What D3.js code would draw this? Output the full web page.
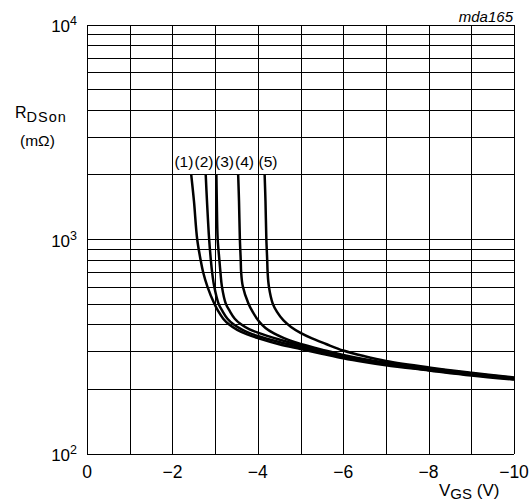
<!DOCTYPE html>
<html>
<head>
<meta charset="utf-8">
<script src="https://cdn.jsdelivr.net/npm/d3@7"></script>
<style>
  html, body { margin: 0; padding: 0; background: #fff; }
  svg { display: block; }
  text { font-family: "Liberation Sans", Arial, Helvetica, sans-serif; fill: #000; }
</style>
</head>
<body>
<svg id="chart" width="531" height="500"></svg>
<script>
// ---- data ----
const xTicks = [0, -2, -4, -6, -8, -10];
const xTickLabels = ["0", "\u22122", "\u22124", "\u22126", "\u22128", "\u221210"];
const xGrid = [0, -1, -2, -3, -4, -5, -6, -7, -8, -9, -10];
const yTickExponents = [2, 3, 4];
const curveLabels = ["(1)", "(2)", "(3)", "(4)", "(5)"];
const curveLabelV = [-2.27, -2.74, -3.22, -3.69, -4.24];

const vgs1 = [-2.44, -2.505, -2.58, -2.66, -2.72, -2.82, -2.98, -3.073, -3.19, -3.33, -3.518, -3.752, -4.0, -4.5, -5.0, -5.5, -6.0, -6.5, -7.0, -8.0, -9.0, -10];
const rds1 = [2000, 1500, 1000, 800, 700, 600, 500, 461, 425, 399, 377, 359, 345, 323, 307, 292, 278, 267, 258, 244, 231, 221];

const vgs2 = [-2.78, -2.81, -2.86, -2.90, -2.93, -2.98, -3.08, -3.173, -3.29, -3.438, -3.642, -3.794, -4.0, -4.5, -5.0, -5.5, -6.0, -6.5, -7.0, -8.0, -9.0, -10];
const rds2 = [2000, 1500, 1000, 800, 700, 600, 500, 461, 425, 399, 377, 365, 353, 331, 313, 297, 282, 270, 261, 245, 233, 222];

const vgs3 = [-3.03, -3.04, -3.06, -3.10, -3.125, -3.16, -3.25, -3.344, -3.461, -3.607, -3.806, -4.0, -4.5, -5.0, -5.5, -6.0, -6.5, -7.0, -8.0, -9.0, -10];
const rds3 = [2000, 1500, 1000, 800, 700, 600, 500, 461, 425, 400, 379, 366, 340, 319, 302, 286, 273, 263, 247, 234, 223];

const vgs4 = [-3.54, -3.56, -3.58, -3.60, -3.61, -3.65, -3.78, -3.881, -4.016, -4.18, -4.379, -4.614, -4.871, -5.0, -5.5, -6.0, -6.5, -7.0, -8.0, -9.0, -10];
const rds4 = [2000, 1500, 1000, 800, 700, 600, 500, 457, 416, 385, 363, 345, 330, 324, 305, 288, 275, 265, 250, 236, 225];

const vgs5 = [-4.16, -4.18, -4.20, -4.22, -4.23, -4.26, -4.35, -4.45, -4.602, -4.778, -5.0, -5.269, -5.597, -6.0, -6.5, -7.0, -8.0, -9.0, -10];
const rds5 = [2000, 1500, 1000, 800, 700, 600, 500, 457, 417, 389, 365, 344, 324, 302, 284, 270, 252, 238, 226];

// ---- chart ----
const svg = d3.select("#chart");
const x = d3.scaleLinear().domain([0, -10]).range([87, 514]);
const y = d3.scaleLog().domain([100, 10000]).range([453.5, 24.5]);

// grid: vertical lines
const grid = svg.append("g").attr("stroke", "#000").attr("stroke-width", 1).attr("shape-rendering", "crispEdges");
grid.selectAll("line.v").data(xGrid).join("line")
  .attr("class", "v")
  .attr("x1", d => Math.round(x(d)) + 0.5).attr("x2", d => Math.round(x(d)) + 0.5)
  .attr("y1", y(10000)).attr("y2", y(100));

// horizontal log grid
const yGrid = [];
for (let dec = 100; dec < 10000; dec *= 10) {
  for (let m = 1; m < 10; m++) yGrid.push(dec * m);
}
yGrid.push(10000);
grid.selectAll("line.h").data(yGrid).join("line")
  .attr("class", "h")
  .attr("x1", x(0)).attr("x2", x(-10))
  .attr("y1", d => Math.round(y(d)) + 0.5).attr("y2", d => Math.round(y(d)) + 0.5);

// curves
const series = [
  { v: vgs1, r: rds1 },
  { v: vgs2, r: rds2 },
  { v: vgs3, r: rds3 },
  { v: vgs4, r: rds4 },
  { v: vgs5, r: rds5 }
];
const line = d3.line()
  .x(d => x(d[0]))
  .y(d => y(d[1]))
  .curve(d3.curveCatmullRom.alpha(0.5));

svg.append("g").selectAll("path").data(series).join("path")
  .attr("d", s => line(s.v.map((v, i) => [v, s.r[i]])))
  .attr("fill", "none")
  .attr("stroke", "#000")
  .attr("stroke-width", 2.5)
  .attr("stroke-linejoin", "round")
  .attr("stroke-linecap", "butt");

// curve labels
svg.append("g").selectAll("text").data(curveLabels).join("text")
  .attr("x", (d, i) => x(curveLabelV[i]))
  .attr("y", y(2000) - 7)
  .attr("text-anchor", "middle")
  .attr("font-size", 15.5)
  .text(d => d);

// y tick labels 10^n
const yl = svg.append("g").selectAll("text").data(yTickExponents).join("text")
  .attr("x", 77)
  .attr("y", d => y(Math.pow(10, d)) + 7.5)
  .attr("text-anchor", "end")
  .attr("font-size", 17);
yl.append("tspan").text("10");
yl.append("tspan").attr("font-size", 12.5).attr("dy", -7).text(d => d);

// x tick labels
svg.append("g").selectAll("text").data(xTicks).join("text")
  .attr("x", d => x(d))
  .attr("y", 477.5)
  .attr("text-anchor", "middle")
  .attr("font-size", 17.5)
  .text((d, i) => xTickLabels[i]);

// y axis title
const yt = svg.append("text").attr("x", 15).attr("y", 118).attr("font-size", 16);
yt.append("tspan").text("R");
yt.append("tspan").attr("font-size", 14.5).attr("letter-spacing", 1).attr("dy", 4).text("DSon");
svg.append("text").attr("x", 20).attr("y", 146).attr("font-size", 15.5).text("(m\u03A9)");

// x axis title
const xt = svg.append("text").attr("x", 439).attr("y", 495.5).attr("font-size", 17);
xt.append("tspan").text("V");
xt.append("tspan").attr("font-size", 15).attr("dy", 3).text("GS");
xt.append("tspan").attr("dy", -3).text(" (V)");

// figure code
svg.append("text").attr("x", 513).attr("y", 22).attr("text-anchor", "end")
  .attr("font-size", 15).attr("font-style", "italic").text("mda165");
</script>
</body>
</html>
